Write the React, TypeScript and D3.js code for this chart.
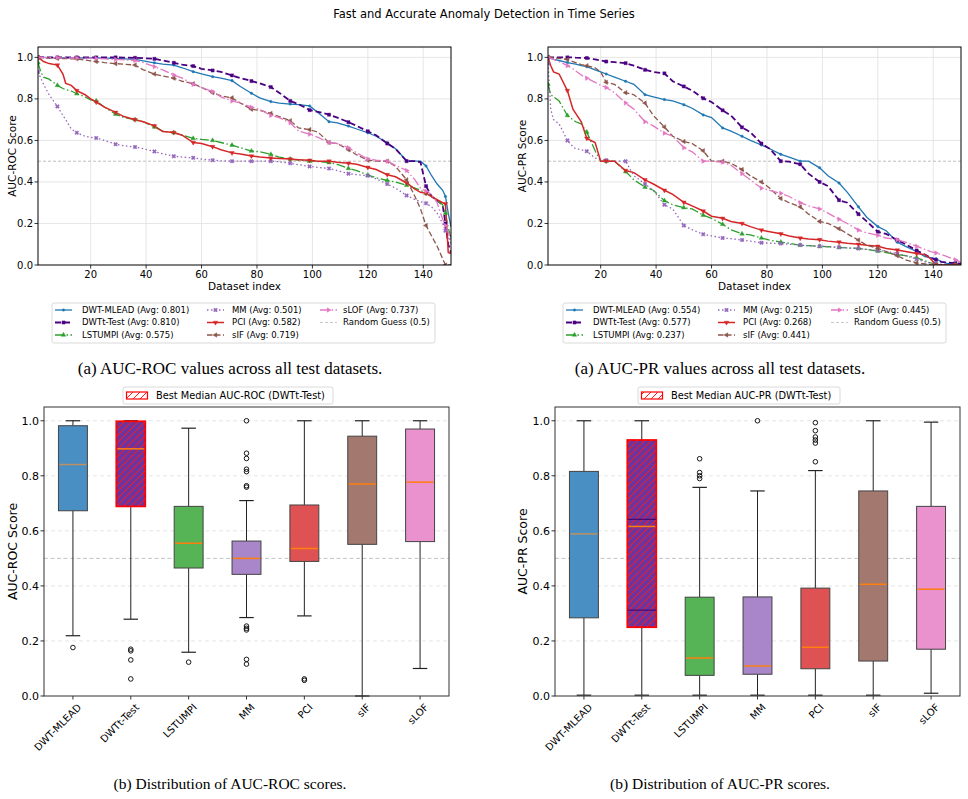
import React from "react";
import * as d3 from "d3";

// ---------- DATA ----------
const IDX = [1,2,3,5,8,10,11,13,15,18,20,22,25,29,32,36,39,43,46,50,53,57,60,64,67,71,74,78,81,85,88,92,95,99,102,106,109,113,116,120,123,127,130,134,137,139,141,143,145,147,148,149,150];
const METHODS = ["DWT-MLEAD","DWTt-Test","LSTUMPI","MM","PCI","sIF","sLOF"];
const ROC_AVG = ["0.801","0.810","0.575","0.501","0.582","0.719","0.737"];
const PR_AVG = ["0.554","0.577","0.237","0.215","0.268","0.441","0.445"];
const X_TICKS = [20,40,60,80,100,120,140];
const Y_TICKS = [0,0.2,0.4,0.6,0.8,1.0];

const ROC_DWT_MLEAD = [1.0,1.0,1.0,0.999,0.998,0.998,0.998,0.998,0.998,0.997,0.997,0.997,0.996,0.995,0.993,0.99,0.983,0.974,0.968,0.963,0.95,0.931,0.92,0.907,0.9,0.888,0.86,0.827,0.805,0.787,0.78,0.775,0.772,0.766,0.735,0.69,0.685,0.669,0.655,0.637,0.62,0.589,0.56,0.502,0.5,0.5,0.477,0.43,0.39,0.36,0.33,0.25,0.185];
const ROC_DWTT = [1.0,1.0,1.0,1.0,1.0,1.0,1.0,1.0,1.0,1.0,1.0,1.0,1.0,1.0,0.999,0.998,0.996,0.993,0.985,0.974,0.965,0.958,0.945,0.937,0.93,0.913,0.9,0.886,0.875,0.857,0.83,0.79,0.775,0.746,0.738,0.724,0.71,0.688,0.67,0.644,0.625,0.585,0.56,0.5,0.5,0.495,0.38,0.33,0.31,0.29,0.2,0.1,0.06];
const ROC_LSTUMPI = [0.975,0.93,0.905,0.895,0.865,0.85,0.845,0.838,0.825,0.81,0.795,0.79,0.76,0.727,0.71,0.7,0.69,0.665,0.645,0.637,0.625,0.61,0.605,0.6,0.59,0.577,0.565,0.549,0.545,0.533,0.52,0.51,0.505,0.5,0.498,0.493,0.485,0.465,0.455,0.433,0.42,0.407,0.4,0.384,0.37,0.36,0.345,0.33,0.31,0.29,0.25,0.18,0.13];
const ROC_MM = [0.93,0.9,0.87,0.82,0.764,0.72,0.7,0.655,0.637,0.62,0.615,0.612,0.6,0.582,0.575,0.568,0.56,0.547,0.535,0.524,0.52,0.516,0.51,0.505,0.502,0.5,0.5,0.5,0.5,0.5,0.497,0.49,0.483,0.475,0.47,0.465,0.455,0.44,0.435,0.43,0.415,0.39,0.37,0.335,0.315,0.305,0.297,0.28,0.25,0.2,0.165,0.14,0.1];
const ROC_PCI = [1.0,0.99,0.98,0.97,0.963,0.92,0.875,0.865,0.84,0.82,0.8,0.785,0.76,0.735,0.715,0.7,0.69,0.67,0.643,0.638,0.625,0.59,0.585,0.57,0.555,0.54,0.535,0.525,0.52,0.515,0.513,0.51,0.507,0.504,0.5,0.5,0.495,0.49,0.485,0.47,0.46,0.435,0.425,0.395,0.365,0.35,0.345,0.33,0.315,0.3,0.295,0.06,0.055];
const ROC_SIF = [1.0,1.0,0.999,0.997,0.995,0.994,0.994,0.993,0.993,0.987,0.983,0.98,0.975,0.97,0.967,0.963,0.94,0.92,0.91,0.9,0.885,0.873,0.855,0.83,0.815,0.805,0.78,0.75,0.745,0.73,0.715,0.695,0.66,0.652,0.64,0.59,0.585,0.555,0.53,0.505,0.5,0.5,0.475,0.41,0.33,0.27,0.19,0.14,0.09,0.03,0.0,0.0,0.0];
const ROC_SLOF = [1.0,1.0,0.999,0.999,0.998,0.998,0.998,0.997,0.997,0.996,0.995,0.995,0.993,0.99,0.988,0.985,0.975,0.955,0.94,0.915,0.9,0.87,0.855,0.835,0.81,0.79,0.78,0.76,0.75,0.72,0.71,0.685,0.645,0.63,0.615,0.59,0.585,0.565,0.54,0.51,0.505,0.5,0.48,0.455,0.41,0.37,0.355,0.34,0.3,0.22,0.19,0.16,0.12];

const PR_DWT_MLEAD = [1.0,0.995,0.99,0.985,0.975,0.97,0.967,0.96,0.955,0.94,0.93,0.92,0.905,0.885,0.87,0.82,0.81,0.797,0.79,0.772,0.755,0.723,0.71,0.66,0.645,0.62,0.6,0.578,0.56,0.533,0.52,0.5,0.5,0.468,0.43,0.395,0.35,0.28,0.23,0.185,0.165,0.11,0.09,0.065,0.04,0.035,0.03,0.015,0.008,0.005,0.005,0.004,0.003];
const PR_DWTT = [1.0,1.0,1.0,1.0,1.0,1.0,0.999,0.998,0.997,0.99,0.985,0.98,0.977,0.972,0.96,0.94,0.93,0.923,0.885,0.86,0.84,0.803,0.785,0.745,0.72,0.663,0.64,0.585,0.56,0.5,0.498,0.485,0.44,0.4,0.38,0.312,0.3,0.245,0.21,0.16,0.15,0.12,0.1,0.07,0.05,0.035,0.025,0.015,0.012,0.01,0.01,0.008,0.006];
const PR_LSTUMPI = [0.87,0.82,0.81,0.79,0.72,0.7,0.69,0.68,0.64,0.55,0.5,0.5,0.5,0.45,0.41,0.375,0.36,0.31,0.29,0.276,0.27,0.24,0.225,0.196,0.17,0.15,0.145,0.13,0.12,0.11,0.105,0.095,0.093,0.09,0.088,0.085,0.082,0.08,0.075,0.067,0.06,0.05,0.045,0.035,0.02,0.01,0.005,0.002,0.001,0,0,0,0];
const PR_MM = [0.97,0.75,0.7,0.68,0.6,0.57,0.56,0.555,0.548,0.515,0.508,0.505,0.5,0.5,0.43,0.39,0.36,0.29,0.27,0.19,0.17,0.148,0.14,0.13,0.127,0.12,0.115,0.107,0.105,0.103,0.1,0.096,0.093,0.09,0.088,0.085,0.082,0.08,0.075,0.07,0.065,0.055,0.045,0.028,0.015,0.01,0.005,0.003,0.002,0.001,0,0,0];
const PR_PCI = [1.0,0.96,0.93,0.92,0.84,0.75,0.73,0.69,0.61,0.59,0.5,0.5,0.5,0.455,0.445,0.41,0.39,0.36,0.34,0.302,0.285,0.26,0.235,0.225,0.21,0.2,0.185,0.168,0.16,0.15,0.14,0.13,0.125,0.122,0.115,0.11,0.105,0.1,0.095,0.09,0.08,0.072,0.065,0.055,0.05,0.03,0,0,0,0,0,0,0];
const PR_SIF = [1.0,1.0,0.998,0.995,0.99,0.98,0.975,0.965,0.96,0.95,0.93,0.88,0.87,0.83,0.82,0.78,0.72,0.665,0.62,0.595,0.585,0.55,0.5,0.5,0.49,0.46,0.43,0.4,0.37,0.32,0.3,0.28,0.245,0.21,0.2,0.175,0.15,0.12,0.095,0.08,0.065,0.045,0.025,0.01,0.005,0.002,0,0,0,0,0,0,0];
const PR_SLOF = [1.0,0.995,0.99,0.98,0.96,0.945,0.935,0.915,0.9,0.88,0.865,0.855,0.83,0.78,0.75,0.69,0.67,0.635,0.62,0.565,0.545,0.5,0.5,0.495,0.48,0.44,0.41,0.37,0.36,0.345,0.33,0.3,0.285,0.27,0.25,0.22,0.2,0.168,0.155,0.143,0.13,0.122,0.11,0.09,0.075,0.065,0.058,0.05,0.04,0.03,0.025,0.02,0.012];

const ROC_SERIES = [ROC_DWT_MLEAD, ROC_DWTT, ROC_LSTUMPI, ROC_MM, ROC_PCI, ROC_SIF, ROC_SLOF];
const PR_SERIES = [PR_DWT_MLEAD, PR_DWTT, PR_LSTUMPI, PR_MM, PR_PCI, PR_SIF, PR_SLOF];

// box statistics
const ROC_LO = [0.219,0.279,0.159,0.285,0.291,0.0,0.1];
const ROC_Q1 = [0.673,0.689,0.465,0.442,0.489,0.551,0.561];
const ROC_MED = [0.841,0.898,0.555,0.5,0.536,0.77,0.777];
const ROC_Q3 = [0.982,0.998,0.689,0.563,0.694,0.944,0.97];
const ROC_HI = [1.0,1.0,0.973,0.71,1.0,1.0,1.0];
const ROC_OUT = [[0.176],[0.17,0.164,0.131,0.062],[0.123],[1.0,0.882,0.863,0.824,0.815,0.764,0.759,0.254,0.246,0.24,0.133,0.116],[0.062,0.057],[],[]];
const ROC_EXTRA: number[][] = [[],[],[],[],[],[],[]];

const PR_LO = [0.003,0.003,0.003,0.003,0.003,0.003,0.01];
const PR_Q1 = [0.284,0.25,0.075,0.079,0.099,0.127,0.17];
const PR_MED = [0.589,0.616,0.138,0.109,0.177,0.406,0.388];
const PR_Q3 = [0.816,0.93,0.359,0.36,0.392,0.745,0.689];
const PR_HI = [1.0,1.0,0.758,0.745,0.819,1.0,0.995];
const PR_OUT = [[],[],[0.862,0.812,0.8,0.79],[1.0],[0.993,0.964,0.941,0.93,0.919,0.851],[],[]];
const PR_EXTRA: number[][] = [[],[0.642,0.312],[],[],[],[],[]];

// ---------- STYLE ----------
const COLORS = ["#1f77b4","#4b0082","#2ca02c","#9467bd","#d62728","#8c564b","#e377c2"];
const DASH = ["", "6,3", "9,2.5,1.5,2.5", "1.5,2.5", "", "5.5,2.5", "9,2.5,1.5,2.5"];
const LW = [1.3, 1.8, 1.3, 1.3, 1.5, 1.3, 1.3];
const BOX_FILL = ["#4a8fc3","#6f339b","#56b356","#a985ca","#de5253","#a3786f","#e992ce"];
const MED_COLOR = ["#c0905f","#ff7f0e","#ff7f0e","#ff7f0e","#ff7f0e","#ff7f0e","#ff7f0e"];
const FONT = "DejaVu Sans, sans-serif";
const SERIF = "Liberation Serif, Times New Roman, serif";

function markerPath(i: number, size: number) {
  const types = [d3.symbolCircle, d3.symbolSquare, d3.symbolTriangle, d3.symbolCross, d3.symbolTriangle, d3.symbolTriangle, d3.symbolTriangle];
  const sizes = [5, 10, 9, 10, 9, 9, 9];
  return d3.symbol().type(types[i]).size(sizes[i] * size)() as string;
}
const MARKER_ROT = [0, 0, 0, 45, 180, -90, 90];

function Marker({ i, x, y, s = 1 }: { i: number; x: number; y: number; s?: number }) {
  return (
    <path d={markerPath(i, s)} transform={`translate(${x},${y}) rotate(${MARKER_ROT[i]})`} fill={COLORS[i]} stroke={COLORS[i]} strokeWidth={0.4} />
  );
}

function LineChart(props: { x0: number; x1: number; top: number; bottom: number; series: number[][]; avgs: string[]; ylabel: string; ylabelX: number; legendLeft: number; id: string; }) {
  const { x0, x1, top, bottom, series, avgs, ylabel, ylabelX, legendLeft, id } = props;
  const x = d3.scaleLinear().domain([1, 150]).range([x0, x1]);
  const y = d3.scaleLinear().domain([0, 1.05]).range([bottom, top]);
  const line = d3.line<number>().x((_, i) => x(IDX[i])).y((d) => y(d));
  const legendTop = 303;
  const rowY = [310, 322.5, 335];
  const handleX = [3, 155, 268];
  const textX = [30, 180, 291];
  const entries = METHODS.map((m, i) => ({ i, label: `${m} (Avg: ${avgs[i]})` }));
  const slots = [0, 0, 0, 1, 1, 1, 2];
  const rows = [0, 1, 2, 0, 1, 2, 0];
  return (
    <g>
      <defs>
        <clipPath id={id}>
          <rect x={x0} y={top} width={x1 - x0} height={bottom - top} />
        </clipPath>
      </defs>
      {X_TICKS.map((t) => (
        <line key={"gx" + t} x1={x(t)} x2={x(t)} y1={top} y2={bottom} stroke="#e3e3e3" strokeWidth={0.9} />
      ))}
      {Y_TICKS.filter((t) => t > 0).map((t) => (
        <line key={"gy" + t} x1={x0} x2={x1} y1={y(t)} y2={y(t)} stroke="#e3e3e3" strokeWidth={0.9} />
      ))}
      <line x1={x0} x2={x1} y1={y(0.5)} y2={y(0.5)} stroke="#b0b0b0" strokeWidth={0.8} strokeDasharray="3,2" />
      <g clipPath={`url(#${id})`}>
        {series.map((s, i) => (
          <path key={"l" + i} d={line(s) as string} fill="none" stroke={COLORS[i]} strokeWidth={LW[i]} strokeDasharray={DASH[i]} />
        ))}
        {series.map((s, i) =>
          s.map((v, k) => ((IDX[k] - 1) % 7 === 0 ? <Marker key={`m${i}-${k}`} i={i} x={x(IDX[k])} y={y(v)} /> : null))
        )}
      </g>
      <rect x={x0} y={top} width={x1 - x0} height={bottom - top} fill="none" stroke="#000" strokeWidth={1} />
      {X_TICKS.map((t) => (
        <g key={"tx" + t}>
          <line x1={x(t)} x2={x(t)} y1={bottom} y2={bottom + 3.5} stroke="#000" strokeWidth={0.8} />
          <text x={x(t)} y={bottom + 13} fontSize={10} fontFamily={FONT} textAnchor="middle">{t}</text>
        </g>
      ))}
      {Y_TICKS.map((t) => (
        <g key={"ty" + t}>
          <line x1={x0 - 3.5} x2={x0} y1={y(t)} y2={y(t)} stroke="#000" strokeWidth={0.8} />
          <text x={x0 - 5} y={y(t)} dy="0.35em" fontSize={10} fontFamily={FONT} textAnchor="end">{t.toFixed(1)}</text>
        </g>
      ))}
      <text x={(x0 + x1) / 2} y={bottom + 25} fontSize={10.5} fontFamily={FONT} textAnchor="middle">Dataset index</text>
      <text transform={`translate(${ylabelX},${(top + bottom) / 2}) rotate(-90)`} dy="0.35em" fontSize={10.5} fontFamily={FONT} textAnchor="middle">{ylabel}</text>
      <rect x={legendLeft} y={legendTop} width={383} height={40} rx={2} fill="#fff" stroke="#d0d0d0" strokeWidth={0.8} />
      {entries.map((e) => {
        const hx = legendLeft + handleX[slots[e.i]];
        const ry = rowY[rows[e.i]];
        return (
          <g key={"lg" + e.i}>
            <line x1={hx} x2={hx + 17} y1={ry} y2={ry} stroke={COLORS[e.i]} strokeWidth={LW[e.i]} strokeDasharray={DASH[e.i]} />
            <Marker i={e.i} x={hx + 8.5} y={ry} />
            <text x={legendLeft + textX[slots[e.i]]} y={ry} dy="0.35em" fontSize={8.5} fontFamily={FONT}>{e.label}</text>
          </g>
        );
      })}
      <line x1={legendLeft + handleX[2]} x2={legendLeft + handleX[2] + 17} y1={rowY[1]} y2={rowY[1]} stroke="#c8c8c8" strokeWidth={1} strokeDasharray="3,2" />
      <text x={legendLeft + textX[2]} y={rowY[1]} dy="0.35em" fontSize={8.5} fontFamily={FONT}>Random Guess (0.5)</text>
    </g>
  );
}

function BoxChart(props: { x0: number; x1: number; top: number; bottom: number; lo: number[]; q1: number[]; med: number[]; q3: number[]; hi: number[]; out: number[][]; extra: number[][]; ylabel: string; ylabelX: number; legendText: string; legendLeft: number; legendW: number; id: string; }) {
  const { x0, x1, top, bottom, lo, q1, med, q3, hi, out, extra, ylabel, ylabelX, legendText, legendLeft, legendW, id } = props;
  const x = d3.scaleBand<string>().domain(METHODS).range([x0, x1]).paddingInner(0.5).paddingOuter(0.25);
  const y = d3.scaleLinear().domain([0, 1.05]).range([bottom, top]);
  const bw = x.bandwidth();
  return (
    <g>
      <defs>
        <pattern id={id} patternUnits="userSpaceOnUse" width={7} height={7}>
          <path d="M-1,8 L8,-1 M-1,1 L1,-1 M6,8 L8,6" stroke="#ff1a1a" strokeWidth={1} />
        </pattern>
      </defs>
      {Y_TICKS.filter((t) => t > 0).map((t) => (
        <line key={"g" + t} x1={x0} x2={x1} y1={y(t)} y2={y(t)} stroke="#dedede" strokeWidth={0.8} strokeDasharray="4,3" />
      ))}
      <line x1={x0} x2={x1} y1={y(0.5)} y2={y(0.5)} stroke="#bdbdbd" strokeWidth={0.9} strokeDasharray="4,2.5" />
      {METHODS.map((m, i) => {
        const bx = x(m) as number;
        const cx = bx + bw / 2;
        const best = i === 1;
        return (
          <g key={"b" + i}>
            <line x1={cx} x2={cx} y1={y(q3[i])} y2={y(hi[i])} stroke="#222" strokeWidth={1} />
            <line x1={cx} x2={cx} y1={y(q1[i])} y2={y(lo[i])} stroke="#222" strokeWidth={1} />
            <line x1={cx - bw / 4} x2={cx + bw / 4} y1={y(hi[i])} y2={y(hi[i])} stroke="#222" strokeWidth={1.2} />
            <line x1={cx - bw / 4} x2={cx + bw / 4} y1={y(lo[i])} y2={y(lo[i])} stroke="#222" strokeWidth={1.2} />
            <rect x={bx} y={y(q3[i])} width={bw} height={y(q1[i]) - y(q3[i])} fill={BOX_FILL[i]} stroke={best ? "#ff0000" : "#444"} strokeWidth={best ? 1.8 : 1} />
            {best && <rect x={bx} y={y(q3[i])} width={bw} height={y(q1[i]) - y(q3[i])} fill={`url(#${id})`} stroke="none" />}
            {extra[i].map((v, k) => (
              <line key={"e" + k} x1={bx} x2={bx + bw} y1={y(v)} y2={y(v)} stroke="#3a0070" strokeWidth={1} />
            ))}
            <line x1={bx + 1} x2={bx + bw - 1} y1={y(med[i])} y2={y(med[i])} stroke={MED_COLOR[i]} strokeWidth={1.5} />
            {out[i].map((v, k) => (
              <circle key={"o" + k} cx={cx} cy={y(v)} r={2.3} fill="none" stroke="#000" strokeWidth={0.9} />
            ))}
            <line x1={cx} x2={cx} y1={bottom} y2={bottom + 3.5} stroke="#000" strokeWidth={0.8} />
            <text transform={`translate(${cx + 4},${bottom + 7}) rotate(-45)`} dy="0.7em" fontSize={10} fontFamily={FONT} textAnchor="end">{m}</text>
          </g>
        );
      })}
      <rect x={x0} y={top} width={x1 - x0} height={bottom - top} fill="none" stroke="#333" strokeWidth={1} />
      {Y_TICKS.map((t) => (
        <g key={"ty" + t}>
          <line x1={x0 - 3.5} x2={x0} y1={y(t)} y2={y(t)} stroke="#000" strokeWidth={0.8} />
          <text x={x0 - 5} y={y(t)} dy="0.35em" fontSize={11} fontFamily={FONT} textAnchor="end">{t.toFixed(1)}</text>
        </g>
      ))}
      <text transform={`translate(${ylabelX},${(top + bottom) / 2}) rotate(-90)`} dy="0.35em" fontSize={12.5} fontFamily={FONT} textAnchor="middle">{ylabel}</text>
      <rect x={legendLeft} y={387} width={legendW} height={17} rx={2} fill="#fff" stroke="#d0d0d0" strokeWidth={0.8} />
      <rect x={legendLeft + 3.5} y={392} width={21} height={7} fill="#fff" stroke="#ff0000" strokeWidth={1.2} />
      <rect x={legendLeft + 3.5} y={392} width={21} height={7} fill={`url(#${id})`} />
      <text x={legendLeft + 33} y={395.5} dy="0.35em" fontSize={9.8} fontFamily={FONT}>{legendText}</text>
    </g>
  );
}

export default function App() {
  return (
    <svg width={968} height={799} style={{ position: "absolute", left: 0, top: 0, background: "#fff" }}>
      <rect width={968} height={799} fill="#fff" />
      <text x={484} y={14} dy="0.35em" fontSize={11.5} fontFamily={FONT} textAnchor="middle">Fast and Accurate Anomaly Detection in Time Series</text>
      <LineChart x0={38} x1={451} top={47} bottom={265} series={ROC_SERIES} avgs={ROC_AVG} ylabel="AUC-ROC Score" ylabelX={12} legendLeft={52} id="clipRoc" />
      <LineChart x0={548} x1={961} top={47} bottom={265} series={PR_SERIES} avgs={PR_AVG} ylabel="AUC-PR Score" ylabelX={522} legendLeft={563} id="clipPr" />
      <text x={230} y={374} fontSize={17} fontFamily={SERIF} textAnchor="middle">(a) AUC-ROC values across all test datasets.</text>
      <text x={720} y={374} fontSize={17} fontFamily={SERIF} textAnchor="middle">(a) AUC-PR values across all test datasets.</text>
      <BoxChart x0={44} x1={449} top={407} bottom={696} lo={ROC_LO} q1={ROC_Q1} med={ROC_MED} q3={ROC_Q3} hi={ROC_HI} out={ROC_OUT} extra={ROC_EXTRA} ylabel="AUC-ROC Score" ylabelX={13} legendText="Best Median AUC-ROC (DWTt-Test)" legendLeft={123} legendW={210} id="hatchRoc" />
      <BoxChart x0={555} x1={960} top={407} bottom={696} lo={PR_LO} q1={PR_Q1} med={PR_MED} q3={PR_Q3} hi={PR_HI} out={PR_OUT} extra={PR_EXTRA} ylabel="AUC-PR Score" ylabelX={523} legendText="Best Median AUC-PR (DWTt-Test)" legendLeft={638} legendW={202} id="hatchPr" />
      <text x={230} y={789} fontSize={15.5} fontFamily={SERIF} textAnchor="middle">(b) Distribution of AUC-ROC scores.</text>
      <text x={720} y={789} fontSize={15.5} fontFamily={SERIF} textAnchor="middle">(b) Distribution of AUC-PR scores.</text>
    </svg>
  );
}
